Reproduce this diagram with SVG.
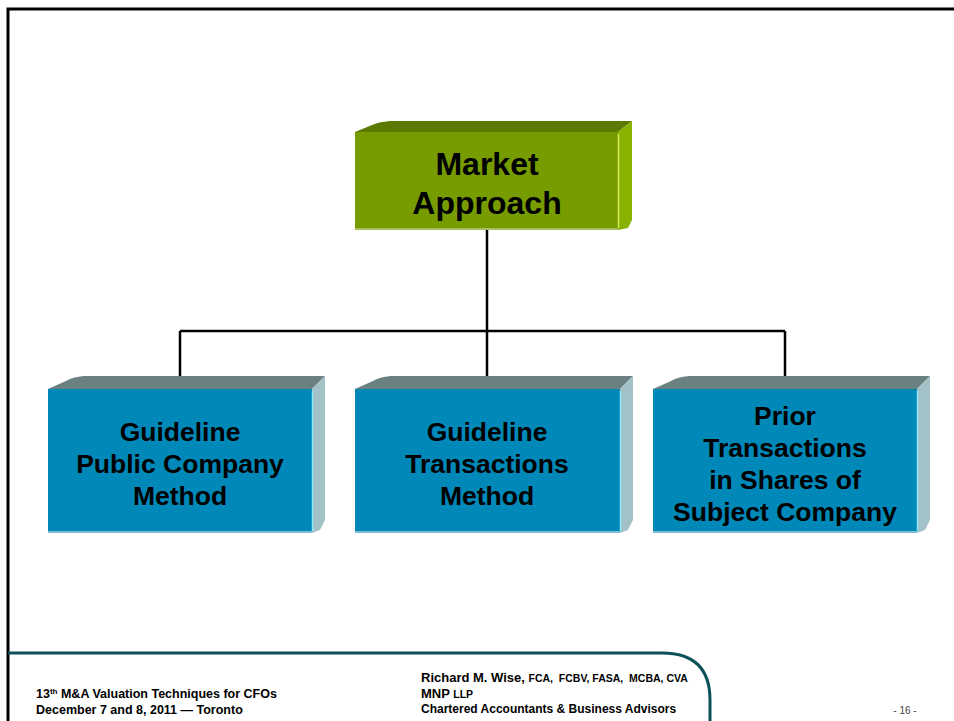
<svg xmlns="http://www.w3.org/2000/svg" width="954" height="721" viewBox="0 0 954 721">
  <style>
    .lbl { font-family: "Liberation Sans", Arial, sans-serif; font-weight: bold; fill: #000; text-anchor: middle; }
    .big { font-size: 32px; }
    .mid { font-size: 26.5px; }
    .ft { font-family: "Liberation Sans", Arial, sans-serif; font-weight: bold; fill: #000; }
    .conn { stroke: #000; stroke-width: 2.5; fill: none; }
    .bfront { fill: #0088b8; }
    .btop { fill: #6b8080; }
    .bside { fill: #a3c2c8; }
    .bhl { stroke: #8fe8f8; stroke-width: 1.5; }
    .bbot { fill: #7fbcd4; }
  </style>

  <rect width="954" height="721" fill="#fff"/>

  <!-- page frame -->
  <path d="M8 721 V9 H954" fill="none" stroke="#000" stroke-width="3"/>

  <!-- footer rule -->
  <path d="M8 653 H662 Q710 653 710 700 V721" fill="none" stroke="#0b5258" stroke-width="3"/>

  <!-- connectors -->
  <g id="connectors">
    <path class="conn" d="M487 230 V331"/>
    <path class="conn" d="M180 331 H785"/>
    <path class="conn" d="M180 331 V389"/>
    <path class="conn" d="M487 331 V389"/>
    <path class="conn" d="M785 331 V389"/>
  </g>

  <!-- root node -->
  <g id="market-approach">
    <path d="M355 132 L372 125 Q378 122 390 121 H632 L618 132 Z" fill="#5c7a00"/>
    <path d="M618 132 L632 121 V220 L628 228 L618 230 Z" fill="#88b200"/>
    <rect x="355" y="132" width="263" height="98" fill="#779c00"/>
    <line x1="618.5" y1="134" x2="618.5" y2="228" stroke="#d8e860" stroke-width="1.5"/>
    <rect x="355" y="228" width="263" height="2" fill="#a9c060"/>
    <text class="lbl big" x="487" y="175">Market</text>
    <text class="lbl big" x="487" y="214">Approach</text>
  </g>

  <!-- child nodes -->
  <g id="guideline-public-company">
    <path d="M48 389 L66 381 Q72 377 84 376 H325 L312 389 Z" class="btop"/>
    <path d="M312 389 L325 376 V520 L320 530 L312 533 Z" class="bside"/>
    <rect x="48" y="389" width="264" height="144" class="bfront"/>
    <line x1="312.5" y1="391" x2="312.5" y2="531" class="bhl"/>
    <rect x="48" y="531" width="264" height="2" class="bbot"/>
    <text class="lbl mid" x="180" y="441">Guideline</text>
    <text class="lbl mid" x="180" y="473">Public Company</text>
    <text class="lbl mid" x="180" y="505">Method</text>
  </g>

  <g id="guideline-transactions">
    <path d="M355 389 L373 381 Q379 377 391 376 H633 L620 389 Z" class="btop"/>
    <path d="M620 389 L633 376 V520 L628 530 L620 533 Z" class="bside"/>
    <rect x="355" y="389" width="265" height="144" class="bfront"/>
    <line x1="620.5" y1="391" x2="620.5" y2="531" class="bhl"/>
    <rect x="355" y="531" width="265" height="2" class="bbot"/>
    <text class="lbl mid" x="487" y="441">Guideline</text>
    <text class="lbl mid" x="487" y="473">Transactions</text>
    <text class="lbl mid" x="487" y="505">Method</text>
  </g>

  <g id="prior-transactions">
    <path d="M653 389 L671 381 Q677 377 689 376 H930 L917 389 Z" class="btop"/>
    <path d="M917 389 L930 376 V520 L925 530 L917 533 Z" class="bside"/>
    <rect x="653" y="389" width="264" height="144" class="bfront"/>
    <line x1="917.5" y1="391" x2="917.5" y2="531" class="bhl"/>
    <rect x="653" y="531" width="264" height="2" class="bbot"/>
    <text class="lbl mid" x="785" y="425">Prior</text>
    <text class="lbl mid" x="785" y="457">Transactions</text>
    <text class="lbl mid" x="785" y="489">in Shares of</text>
    <text class="lbl mid" x="785" y="521">Subject Company</text>
  </g>

  <!-- footer text -->
  <text class="ft" x="36" y="698" font-size="12.5">13<tspan font-size="8" dy="-4">th</tspan><tspan dy="4"> M&amp;A Valuation Techniques for CFOs</tspan></text>
  <text class="ft" x="36" y="714" font-size="12.5">December 7 and 8, 2011 — Toronto</text>
  <text class="ft" x="421" y="682" font-size="13" xml:space="preserve">Richard M. Wise, <tspan font-size="10.5">FCA,  FCBV, FASA,  MCBA, CVA</tspan></text>
  <text class="ft" x="421" y="698" font-size="13">MNP <tspan font-size="10.5">LLP</tspan></text>
  <text class="ft" x="421" y="713" font-size="12">Chartered Accountants &amp; Business Advisors</text>
  <text x="905" y="714" font-family="Liberation Sans, Arial, sans-serif" font-size="10" fill="#444" text-anchor="middle">- 16 -</text>
</svg>
